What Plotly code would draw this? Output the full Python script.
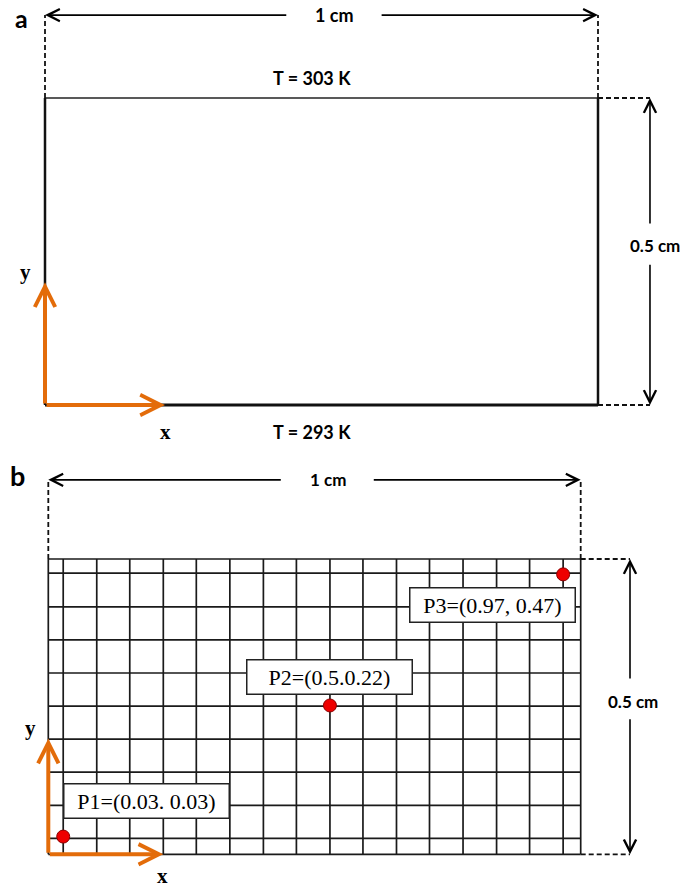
import plotly.graph_objects as go

# ---------------- data ----------------
panel_labels = ["a", "b"]
domain_width_cm = 1.0
domain_height_cm = 0.5
width_label = "1 cm"
height_label = "0.5 cm"
top_temperature_label = "T = 303 K"
bottom_temperature_label = "T = 293 K"
axis_names = ["x", "y"]

# mesh lines of panel b (cm)
grid_x = [0.028, 0.091, 0.153, 0.216, 0.278, 0.341, 0.404, 0.466, 0.529,
          0.591, 0.654, 0.716, 0.779, 0.842, 0.904, 0.967]
grid_y = [0.027, 0.083, 0.139, 0.195, 0.251, 0.307, 0.363, 0.419, 0.476]

# probe points (as drawn) and their labels
point_x = [0.028, 0.529, 0.967]
point_y = [0.030, 0.252, 0.474]
point_labels = ["P1=(0.03. 0.03)", "P2=(0.5.0.22)", "P3=(0.97, 0.47)"]

# ---------------- layout constants ----------------
W, H = 694, 888
ORANGE = "#E36C0A"
SANS = "Lato"
SERIF = "Liberation Serif"

# pixel anchors: origin pixel, pixels per cm, vertical pixel band of panel
PANELS = {
    "a": dict(x0=45.0, sx=553.0, y0=405.0, sy=614.0, top=0, bottom=444,
              xref="x", yref="y", dim_y=0.635, dim_x=1.094,
              hgap=(0.439, 0.606), vgap=(0.231, 0.293),
              wlab_x=0.523, hlab=(1.103, 0.259), plab=(-0.042, 0.631),
              arrow_len=(0.217, 0.200), xlab=(0.217, -0.044), ylab=(-0.036, 0.217)),
    "b": dict(x0=48.3, sx=532.4, y0=854.3, sy=590.6, top=444, bottom=888,
              xref="x2", yref="y2", dim_y=0.634, dim_x=1.0926,
              hgap=(0.4395, 0.6085), vgap=(0.231, 0.2953),
              wlab_x=0.526, hlab=(1.098, 0.258), plab=(-0.057, 0.642),
              arrow_len=(0.216, 0.196), xlab=(0.215, -0.036), ylab=(-0.034, 0.214)),
}
LABEL_SHIFTS = [(83, 36), (0, 28), (-71, -31)]

fig = go.Figure()
annotations = []


def line(xs, ys, p, width=1.6, color="#111", dash=None):
    fig.add_trace(go.Scatter(x=xs, y=ys, mode="lines", xaxis=p["xref"], yaxis=p["yref"],
                             line=dict(color=color, width=width, dash=dash),
                             hoverinfo="skip", showlegend=False))


def arrow(x, y, ax, ay, p, color="black", width=1.6, size=1.5):
    annotations.append(dict(x=x, y=y, ax=ax, ay=ay, xref=p["xref"], yref=p["yref"],
                            axref=p["xref"], ayref=p["yref"], text="", showarrow=True,
                            arrowhead=5, arrowsize=size, arrowwidth=width,
                            arrowcolor=color, standoff=0, startstandoff=0))


def text(x, y, s, p, size, family=SANS, bold=True, **kw):
    annotations.append(dict(x=x, y=y, xref=p["xref"], yref=p["yref"],
                            text=f"<b>{s}</b>" if bold else s, showarrow=False,
                            font=dict(family=family, size=size, color="black"), **kw))


def dimensions(p, wsize, hsize):
    W_, H_ = domain_width_cm, domain_height_cm
    dash = "5px,3px"
    # extension lines
    line([0, 0], [H_, p["dim_y"]], p, width=1.8, dash=dash)
    line([W_, W_], [H_, p["dim_y"]], p, width=1.8, dash=dash)
    line([W_, p["dim_x"]], [H_, H_], p, width=1.8, dash=dash)
    line([W_, p["dim_x"]], [0, 0], p, width=1.8, dash=dash)
    # width arrow
    arrow(0, p["dim_y"], p["hgap"][0], p["dim_y"], p)
    arrow(W_, p["dim_y"], p["hgap"][1], p["dim_y"], p)
    text(p["wlab_x"], p["dim_y"], width_label, p, wsize)
    # height arrow
    arrow(p["dim_x"], H_, p["dim_x"], p["vgap"][1], p)
    arrow(p["dim_x"], 0, p["dim_x"], p["vgap"][0], p)
    text(p["hlab"][0], p["hlab"][1], height_label, p, hsize)


def coord_arrows(p):
    arrow(p["arrow_len"][0], 0, 0, 0, p, color=ORANGE, width=4, size=1.0)
    arrow(0, p["arrow_len"][1], 0, 0, p, color=ORANGE, width=4, size=1.0)
    text(p["xlab"][0], p["xlab"][1], axis_names[0], p, 21, family=SERIF)
    text(p["ylab"][0], p["ylab"][1], axis_names[1], p, 21, family=SERIF)


# ---------------- panel a ----------------
pa = PANELS["a"]
line([0, domain_width_cm], [domain_height_cm, domain_height_cm], pa, width=1.5, color="#222")
line([0, 0], [0, domain_height_cm], pa, width=2.5)
line([domain_width_cm, domain_width_cm], [0, domain_height_cm], pa, width=2.5)
line([0, domain_width_cm], [0, 0], pa, width=2.8)
dimensions(pa, 18, 17)
text(0.482, 0.533, top_temperature_label, pa, 18)
text(0.482, -0.044, bottom_temperature_label, pa, 18)
text(pa["plab"][0], pa["plab"][1], panel_labels[0], pa, 25)
coord_arrows(pa)

# ---------------- panel b ----------------
pb = PANELS["b"]
gx, gy = [], []
for xv in [0.0] + grid_x + [domain_width_cm]:
    gx += [xv, xv, None]
    gy += [0, domain_height_cm, None]
for yv in [0.0] + grid_y + [domain_height_cm]:
    gx += [0, domain_width_cm, None]
    gy += [yv, yv, None]
line(gx, gy, pb, width=1.7, color="#1a1a1a")
dimensions(pb, 17, 17)
text(pb["plab"][0], pb["plab"][1], panel_labels[1], pb, 27)

fig.add_trace(go.Scatter(x=point_x, y=point_y, mode="markers", xaxis="x2", yaxis="y2",
                         marker=dict(size=13, color="#EE0000",
                                     line=dict(color="#8B0000", width=1)),
                         hoverinfo="skip", showlegend=False))
for (px, py, lab), (dx, dy) in zip(zip(point_x, point_y, point_labels), LABEL_SHIFTS):
    annotations.append(dict(x=px, y=py, xref="x2", yref="y2", text=lab, showarrow=False,
                            xshift=dx, yshift=dy, width=158, height=27, borderpad=3,
                            bgcolor="white", bordercolor="#222", borderwidth=1.5,
                            font=dict(family=SERIF, size=22, color="black")))
coord_arrows(pb)


def rng(p):
    xr = [-p["x0"] / p["sx"], (W - p["x0"]) / p["sx"]]
    yr = [(p["y0"] - p["bottom"]) / p["sy"], (p["y0"] - p["top"]) / p["sy"]]
    return xr, yr


axis_style = dict(visible=False, showgrid=False, zeroline=False, fixedrange=True)
xa, ya = rng(pa)
xb, yb = rng(pb)
fig.update_layout(
    width=W, height=H, margin=dict(l=0, r=0, t=0, b=0),
    paper_bgcolor="white", plot_bgcolor="white", showlegend=False,
    xaxis=dict(domain=[0, 1], range=xa, anchor="y", **axis_style),
    yaxis=dict(domain=[0.5, 1], range=ya, anchor="x", **axis_style),
    xaxis2=dict(domain=[0, 1], range=xb, anchor="y2", **axis_style),
    yaxis2=dict(domain=[0, 0.5], range=yb, anchor="x2", **axis_style),
    annotations=annotations,
)

fig.write_html("out.html", config={"displayModeBar": False},
               post_script="document.body.style.margin='0';")
